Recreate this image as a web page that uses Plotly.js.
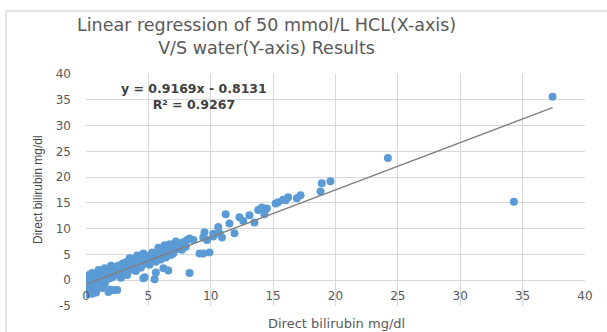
<!DOCTYPE html>
<html>
<head>
<meta charset="utf-8">
<script src="https://cdn.plot.ly/plotly-3.0.1.min.js"></script>
<style>html,body{margin:0;padding:0;background:#fff;}#chart{width:607px;height:332px;}</style>
</head>
<body>
<div id="chart"></div>
<script>
// HCL (x) vs water (y) direct bilirubin results, mg/dl
var hclValues = [
  0.0,0.0,0.0, 0.1,0.1, 0.2,0.2,0.2, 0.3,0.3, 0.4,0.4,0.4, 0.5,0.5,0.5, 0.6,0.6,0.6,
  0.7,0.7, 0.8,0.8,0.8, 0.9,0.9,0.9, 1.0,1.0,1.0, 1.1,1.1, 1.2,1.2,1.2, 1.3,1.3,
  1.4,1.4,1.4, 1.5,1.5,1.5, 1.6,1.6, 1.7,1.7,1.7, 1.8,1.8,1.8, 1.9,1.9,1.9,
  2.0,2.0,2.0, 2.1,2.1, 2.2,2.2,2.2, 2.3,2.3,2.3, 2.4,2.4, 2.5,2.5,2.5,2.5,
  2.6,2.6, 2.7,2.7,2.7, 2.8,2.8, 2.9,2.9, 3.0,3.0,3.0, 3.1,3.1, 3.2,3.2, 3.3,3.3,
  3.4,3.4, 3.5,3.5,3.5, 3.6,3.6, 3.7,3.7, 3.8,3.8, 3.9,3.9, 4.0,4.0,4.0,
  4.2,4.2, 4.3,4.3, 4.4,4.4, 4.5,4.5, 4.6,4.6, 4.7,4.7, 4.8,4.8, 5.0,5.0,5.0,
  5.2,5.2, 5.4,5.4, 5.5,5.5, 5.7,5.7, 5.9,5.9, 6.1,6.1, 6.2,6.2, 6.3,6.3,
  6.5,6.5, 6.6,6.6, 6.7,6.7, 6.9,6.9, 7.1,7.1, 7.3,7.3, 7.5,7.5, 7.8,7.8,
  3.2, 3.8, 4.1, 4.4, 5.1, 5.3, 5.6, 6.0, 6.4, 6.8, 7.0, 2.0, 1.5, 1.0, 0.5,
  3.5, 4.6, 5.8, 7.2, 0.3, 0.1, 0.7, 1.3, 2.8, 3.3, 4.0, 5.6, 7.7, 8.0,
  8.1, 8.3,8.3, 8.6, 9.1, 9.4,9.4, 9.5, 9.7, 9.9, 10.2,10.2, 10.6, 10.7, 10.9,
  11.2, 11.5, 11.9, 12.3, 12.6, 13.1, 13.5, 13.8, 14.1, 14.3, 14.5,
  15.2, 15.4, 15.8, 16.0, 16.2, 16.9, 17.2, 18.8, 18.9, 19.6, 24.2, 34.3, 37.4
];
var waterValues = [
  -0.5,0.2,-1.2, -0.8,0.5, -1.5,-0.2,0.8, -0.6,-2.0, 0.1,-1.1,0.9, -0.4,-2.6,0.4, -0.9,1.0,-0.1,
  0.3,-1.6, -0.3,0.7,-2.4, 0.0,1.2,-1.0, 0.5,-0.5,1.4, -0.2,0.9, 0.2,1.5,-1.3, 0.7,-0.1,
  1.1,0.3,1.8, 0.5,-0.6,1.3, 1.7,0.8, 0.2,1.2,2.0, 0.9,-2.3,1.6, 1.4,0.4,-1.8,
  1.9,1.0,2.3, 0.6,1.5, 2.1,1.2,-1.9, 1.7,2.5,0.9, 2.2,1.4, 1.8,2.7,-1.9,1.1,
  2.4,1.6, 2.0,2.9,1.3, 2.6,1.8, 2.2,3.1, 2.7,1.7,3.3, 2.4,3.0, 3.4,2.1, 2.8,3.6,
  3.1,2.3, 3.7,2.8,3.3, 2.6,3.9, 3.2,3.6, 4.0,2.9, 3.5,3.8, 4.1,3.2,2.7,
  3.6,4.2, 3.0,3.9, 4.3,3.5, 3.8,2.9, 4.4,0.4, 3.6,0.6, 4.1,4.5, 3.9,4.7,3.3,
  4.3,4.9, 5.2,4.1, 0.2,4.6, 5.0,4.2, 5.8,4.8, 5.3,6.1, 2.3,5.0, 6.8,5.6,
  5.4,6.4, 1.9,6.0, 7.0,5.7, 6.2,5.5, 6.2,6.6, 6.0,6.9, 7.1,6.4, 7.4,6.8,
  1.5, 2.0, 4.8, 2.4, 3.0, 5.4, 3.6, 4.0, 4.4, 4.9, 5.2, 2.8, 2.3, 2.0, 1.4,
  4.3, 5.2, 6.3, 7.5, 1.1, -2.7, -2.2, -1.5, 0.5, 1.0, 1.8, 1.5, 5.9, 6.5,
  7.8, 8.1,1.4, 7.8, 5.2, 8.3,5.2, 9.3, 7.8, 5.4, 9.0,8.5, 10.3, 9.1, 8.3,
  12.8, 11.0, 9.1, 12.2, 11.5, 12.6, 11.2, 13.6, 14.1, 12.8, 13.9,
  14.9, 15.1, 15.6, 15.5, 16.1, 15.9, 16.5, 17.2, 18.8, 19.2, 23.7, 15.2, 35.6
];
var slope = 0.9169;
var intercept = -0.8131;
var rSquared = 0.9267;
var xTicks = [0, 5, 10, 15, 20, 25, 30, 35, 40];
var yTicks = [-5, 0, 5, 10, 15, 20, 25, 30, 35, 40];

var xMin = Math.min.apply(null, hclValues);
var xMax = Math.max.apply(null, hclValues);

var grey = '#595959';
var baseFont = 'DejaVu Sans, sans-serif';
var data = [
  {
    type: 'scatter', mode: 'markers', x: hclValues, y: waterValues,
    marker: {color: '#5b9bd5', size: 8}, hoverinfo: 'x+y'
  },
  {
    type: 'scatter', mode: 'lines',
    x: [xMin, xMax], y: [slope * xMin + intercept, slope * xMax + intercept],
    line: {color: '#808080', width: 1.5}, hoverinfo: 'skip'
  }
];

function px(xp) { return (xp - 86) / 499; }
function py(yp) { return (306 - yp) / 232; }

var layout = {
  width: 607, height: 332,
  margin: {l: 86, r: 22, t: 74, b: 26},
  paper_bgcolor: '#ffffff', plot_bgcolor: '#ffffff',
  showlegend: false,
  font: {family: baseFont, color: grey},
  xaxis: {
    range: [0, 40], tickvals: xTicks, ticktext: xTicks.map(String),
    showgrid: true, gridcolor: '#d9d9d9', gridwidth: 1,
    zeroline: false, showline: false, ticks: '',
    anchor: 'free', position: 5 / 45,
    tickfont: {size: 12, color: grey, family: baseFont}, ticklabelstandoff: 7
  },
  yaxis: {
    range: [-5, 40], tickvals: yTicks, ticktext: yTicks.map(String),
    showgrid: true, gridcolor: '#d9d9d9', gridwidth: 1,
    zeroline: true, zerolinecolor: '#d9d9d9', zerolinewidth: 1,
    showline: false, ticks: '',
    tickfont: {size: 12, color: grey, family: baseFont}, ticklabelstandoff: 14
  },
  annotations: [
    {
      text: 'Linear regression of 50 mmol/L HCL(X-axis)<br>V/S water(Y-axis) Results',
      xref: 'paper', yref: 'paper', x: px(266), y: py(36),
      xanchor: 'center', yanchor: 'middle', showarrow: false, align: 'center',
      font: {size: 17.5, color: grey, family: baseFont}
    },
    {
      text: 'Direct bilirubin mg/dl', xref: 'paper', yref: 'paper',
      x: px(336), y: py(323), xanchor: 'center', yanchor: 'middle',
      showarrow: false, font: {size: 13, color: grey, family: baseFont}
    },
    {
      text: 'Direct bilirubin mg/dl', xref: 'paper', yref: 'paper',
      x: px(38), y: py(190), xanchor: 'center', yanchor: 'middle',
      textangle: -90, showarrow: false,
      font: {size: 12, color: '#4a4a4a', family: 'Liberation Sans Narrow, Arial Narrow, sans-serif'}
    },
    {
      text: '<b>y = ' + slope + 'x - ' + Math.abs(intercept) + '</b><br><b>R² = ' + rSquared + '</b>',
      xref: 'paper', yref: 'paper',
      x: px(194), y: py(96), xanchor: 'center', yanchor: 'middle',
      showarrow: false, align: 'center',
      font: {size: 12.5, color: '#404040', family: baseFont}
    }
  ],
  shapes: [
    {type: 'line', xref: 'paper', yref: 'paper', x0: px(6), x1: px(607),
     y0: py(11), y1: py(11), line: {color: '#d9d9d9', width: 1.5}},
    {type: 'line', xref: 'paper', yref: 'paper', x0: px(6), x1: px(6),
     y0: py(11), y1: py(340), line: {color: '#d9d9d9', width: 1.5}}
  ]
};

Plotly.newPlot('chart', data, layout, {displayModeBar: false, staticPlot: true});
</script>
</body>
</html>
